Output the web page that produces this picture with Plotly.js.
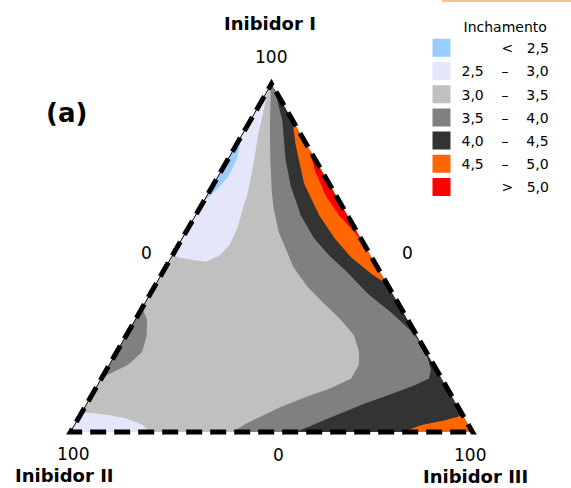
<!DOCTYPE html>
<html><head><meta charset="utf-8">
<script src="https://cdn.plot.ly/plotly-3.0.1.min.js"></script>
<style>html,body{margin:0;padding:0;background:#fff}#chart{width:571px;height:488px}</style>
</head><body><div id="chart"></div>
<script>
// ---- contour level classes (Inchamento) ----
const levelLow  = ['', '2,5', '3,0', '3,5', '4,0', '4,5', ''];
const levelOp   = ['<', '\u2013', '\u2013', '\u2013', '\u2013', '\u2013', '>'];
const levelHigh = ['2,5', '3,0', '3,5', '4,0', '4,5', '5,0', '5,0'];
const levelColors = ['#99CCFF', '#E6E6FA', '#C0C0C0', '#808080', '#333333', '#FF6600', '#FF0000'];

// ---- region outlines in ternary coordinates (% Inibidor I, II, III) ----
const baseA = [100, 0, 0], baseB = [0, 100, 0], baseC = [0, 0, 100];              // 3,0-3,5 background

const grayRA = [100, 97.8, 87.4, 78.2, 68.6, 64.1, 57.4, 52.9, 47.3, 41.7, 37.0, 32.2, 27.7, 23.0, 19.3, 15.4, 12.6, 9.8, 7.1, 2.5, 0, 0];
const grayRB = [0, 1.3, 6.7, 11.2, 15.6, 17.4, 19.5, 20.1, 20.9, 20.2, 18.5, 16.6, 15.6, 16.7, 18.6, 22.5, 29.0, 37.2, 44.3, 54.9, 59.7, 0];
const grayRC = [0, 0.9, 5.9, 10.6, 15.8, 18.5, 23.1, 27.0, 31.8, 38.1, 44.5, 51.2, 56.7, 60.3, 62.1, 62.1, 58.4, 53.0, 48.6, 42.6, 40.3, 100];

const darkA = [100, 97.8, 89.4, 78.2, 70.6, 62.2, 55.7, 51.0, 46.2, 39.8, 34.2, 29.4, 25.5, 21.6, 17.9, 15.4, 13.4, 10.9, 8.1, 4.2, 1.4, 0, 0];
const darkB = [0, 0.2, 2.6, 7.4, 9.9, 11.6, 11.6, 10.4, 8.3, 6.2, 3.0, 0.9, 0.1, 0.5, 1.4, 3.1, 7.7, 14.7, 22.9, 33.2, 40.4, 44.1, 0];
const darkC = [0, 2.0, 8.0, 14.4, 19.5, 26.2, 32.7, 38.6, 45.5, 54.0, 62.8, 69.7, 74.4, 77.9, 80.7, 81.5, 78.9, 74.4, 69.0, 62.6, 58.2, 55.9, 100];

const orTopA = [89.7, 82.6, 71.4, 62.2, 55.7, 50.1, 45.4, 42.3];
const orTopB = [0, 2.7, 6.2, 7.0, 6.5, 5.1, 2.4, 0];
const orTopC = [10.3, 14.7, 22.4, 30.8, 37.8, 44.8, 52.2, 57.7];

const redA = [81.0, 75.4, 67.8, 62.2, 55.0];
const redB = [0, 1.6, 2.6, 2.1, 0];
const redC = [19.0, 23.0, 29.6, 35.7, 45.0];

const orBotA = [0, 2.0, 3.4, 4.8, 0];
const orBotB = [17.6, 11.6, 5.1, 0, 0];
const orBotC = [82.4, 86.4, 91.5, 95.2, 100];

const lavTopA = [100, 97.2, 92.2, 85.4, 76.2, 67.8, 63.6, 58.8, 53.8, 50.7, 49.0, 49.3, 50.1, 51.0];
const lavTopB = [0, 2.4, 5.9, 10.6, 16.5, 22.2, 25.5, 29.0, 33.5, 37.6, 41.7, 44.6, 48.0, 49.0];
const lavTopC = [0, 0.4, 1.9, 4.0, 7.3, 10.0, 10.9, 12.2, 12.7, 11.7, 9.3, 6.1, 1.9, 0];

const blueA = [85.0, 80.4, 78.4, 73.4, 69.7, 66.0];
const blueB = [15.0, 18.0, 19.4, 24.0, 28.7, 34.0];
const blueC = [0, 1.6, 2.2, 2.6, 1.6, 0];

const lavBotA = [5.6, 5.4, 4.9, 3.9, 2.1, 0, 0];
const lavBotB = [94.4, 91.5, 87.9, 84.2, 81.1, 80.1, 100];
const lavBotC = [0, 3.1, 7.2, 11.9, 16.8, 19.9, 0];

const grayLA = [35.6, 32.3, 27.7, 23.0, 19.3, 16.5, 15.1];
const grayLB = [64.4, 64.8, 67.2, 70.7, 76.0, 82.4, 84.9];
const grayLC = [0, 2.9, 5.1, 6.3, 4.7, 1.1, 0];

// ---- axis corner / side labels ----
const axisNames = ['Inibidor I', 'Inibidor II', 'Inibidor III'];
const cornerLabels = ['100', '0', '0', '100', '0', '100'];

const FONT = 'DejaVu Sans, Verdana, sans-serif';

function region(a, b, c, colorIdx) {
  return {
    type: 'scatterternary', mode: 'lines', a: a, b: b, c: c,
    fill: 'toself', fillcolor: levelColors[colorIdx],
    line: {width: 0, color: levelColors[colorIdx]},
    hoverinfo: 'skip', showlegend: false
  };
}

const traces = [
  region(baseA, baseB, baseC, 2),
  region(grayRA, grayRB, grayRC, 3),
  region(darkA, darkB, darkC, 4),
  region(orTopA, orTopB, orTopC, 5),
  region(redA, redB, redC, 6),
  region(orBotA, orBotB, orBotC, 5),
  region(lavTopA, lavTopB, lavTopC, 1),
  region(blueA, blueB, blueC, 0),
  region(lavBotA, lavBotB, lavBotC, 1),
  region(grayLA, grayLB, grayLC, 3)
];

// dashed triangle border, drawn on a slightly larger overlay triangle so the dashes straddle the edge
traces.push({
  type: 'scatterternary', subplot: 'ternary2', mode: 'lines',
  a: [baseA[1], baseA[2], baseA[0], baseA[1]],
  b: [baseB[1], baseB[2], baseB[0], baseB[1]],
  c: [baseC[1], baseC[2], baseC[0], baseC[1]],
  line: {color: '#000', width: 10, dash: '16px,8px'},
  hoverinfo: 'skip', showlegend: false
});

// legend entries
const NB = '\u00A0';
function label(i) {
  if (levelLow[i] === '') return NB.repeat(9) + levelOp[i] + NB.repeat(3) + levelHigh[i];
  return levelLow[i] + NB.repeat(4) + levelOp[i] + NB.repeat(4) + levelHigh[i];
}
for (let i = 0; i < levelColors.length; i++) {
  traces.push({
    type: 'scatterternary', mode: 'markers', a: [null], b: [null], c: [null],
    name: label(i), legendgroup: 'g' + i,
    marker: {symbol: 'square', size: 16, color: levelColors[i], line: {width: 2, color: levelColors[i]}},
    hoverinfo: 'skip', showlegend: true
  });
}

const W = 571, H = 488;
function ann(text, px, py, size, bold) {
  return {
    text: bold ? '<b>' + text + '</b>' : text,
    x: px / W, y: 1 - py / H, xref: 'paper', yref: 'paper',
    xanchor: 'center', yanchor: 'middle', showarrow: false,
    font: {family: FONT, size: size, color: '#000'}
  };
}

const axisOff = {showticklabels: false, showgrid: false, ticks: '', title: {text: ''}, showline: false};

// main triangle: side 402 px, base at y=432, centred at x=271.5
const cx = 271.5, side = 402, baseY = 432;
const hTri = side * Math.sqrt(3) / 2;
const pad = 2.5;                       // half visible dash thickness
const side2 = side + 2 * Math.sqrt(3) * pad, h2 = side2 * Math.sqrt(3) / 2, base2 = baseY + pad;

const layout = {
  width: W, height: H,
  margin: {l: 0, r: 0, t: 0, b: 0},
  paper_bgcolor: '#fff',
  font: {family: FONT, color: '#000'},
  ternary: {
    sum: 100,
    domain: {x: [(cx - side / 2) / W, (cx + side / 2) / W], y: [(H - baseY) / H, (H - baseY + hTri) / H]},
    bgcolor: 'rgba(0,0,0,0)',
    aaxis: Object.assign({}, axisOff, {showline: true, linecolor: '#000', linewidth: 1}),
    baxis: Object.assign({}, axisOff),
    caxis: Object.assign({}, axisOff)
  },
  ternary2: {
    sum: 100,
    domain: {x: [(cx - side2 / 2) / W, (cx + side2 / 2) / W], y: [(H - base2) / H, (H - base2 + h2) / H]},
    bgcolor: 'rgba(0,0,0,0)',
    aaxis: Object.assign({}, axisOff),
    baxis: Object.assign({}, axisOff),
    caxis: Object.assign({}, axisOff)
  },
  legend: {
    x: 421.5 / W, xanchor: 'left', y: 1 - 14 / H, yanchor: 'top',
    font: {family: FONT, size: 14, color: '#000'},
    title: {text: NB.repeat(9) + 'Inchamento', font: {family: FONT, size: 14, color: '#000'}},
    tracegroupgap: 2, bgcolor: 'rgba(0,0,0,0)', borderwidth: 0,
    itemclick: false, itemdoubleclick: false
  },
  annotations: [
    ann('(a)', 66, 113, 26, true),
    ann(axisNames[0], 270, 23.5, 18, true),
    ann(cornerLabels[0], 271, 56.5, 17, false),
    ann(cornerLabels[1], 146, 253, 17, false),
    ann(cornerLabels[2], 408, 253, 17, false),
    ann(cornerLabels[3], 73, 454, 17, false),
    ann(cornerLabels[4], 278, 454.5, 17, false),
    ann(cornerLabels[5], 470, 455, 17, false),
    ann(axisNames[1], 64, 475.5, 18, true),
    ann(axisNames[2], 475, 476.5, 18, true)
  ],
  shapes: [
    {type: 'line', xref: 'paper', yref: 'paper', x0: 442 / W, x1: 1, y0: 1 - 1 / H, y1: 1 - 1 / H,
     line: {color: '#F2C48D', width: 2}}
  ]
};

Plotly.newPlot('chart', traces, layout, {displayModeBar: false, staticPlot: true});
</script></body></html>
